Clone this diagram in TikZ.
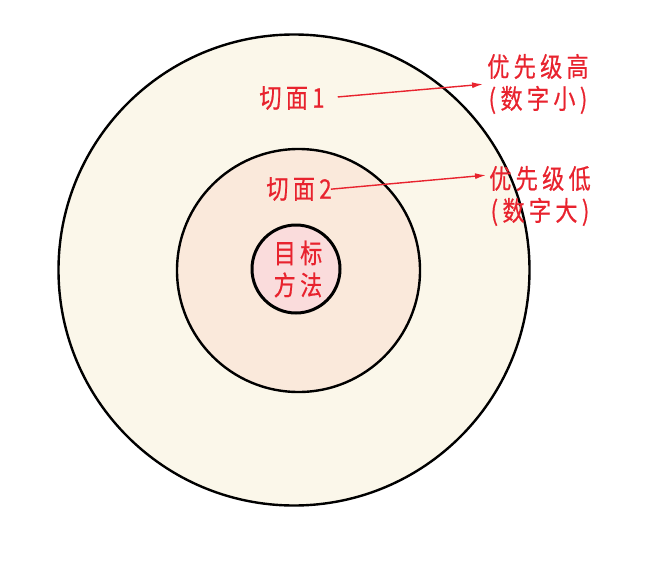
\documentclass[tikz,border=0pt]{standalone}
\usepackage{fontspec}
\newfontfamily\cjk[LetterSpace=16, FakeStretch=0.82, FakeBold=0.5]{Noto Sans CJK SC}
\usetikzlibrary{arrows.meta}
\definecolor{ringout}{HTML}{FBF7EA}
\definecolor{ringmid}{HTML}{FAE9DB}
\definecolor{ringin}{HTML}{FADCDC}
\definecolor{lblred}{HTML}{E8232E}
\tikzset{>={Latex[length=11pt,width=6pt]}}

\begin{document}
\begin{tikzpicture}[x=1pt, y=-1pt,
    ring/.style={circle, draw, line width=2.4pt, inner sep=0pt},
    lbl/.style={text=lblred, font=\cjk\fontsize{27}{32}\selectfont, align=center, inner sep=1pt}]
    \useasboundingbox (0,0) rectangle (648,562);
    % Rings
    \node (outer) [ring, fill=ringout, minimum size=471pt] at (294,270) {};
    \node (middle) [ring, fill=ringmid, minimum size=243pt] at (298.5,270.5) {};
    \node (inner) [ring, fill=ringin, minimum size=88pt, line width=3pt] at (296,269) {};

    % Labels
    \node (core) [lbl] at (298,269) {目标\\方法};
    \node (cut1) [lbl] at (292,98) {切面1};
    \node (cut2) [lbl] at (299,189) {切面2};
    \node (high) [lbl] at (538,84) {优先级高\\(数字小)};
    \node (low) [lbl] at (540,196) {优先级低\\(数字大)};

    % Arrows
    \draw[->, lblred, line width=1.4pt, shorten <=12pt, shorten >=3pt] (cut1.east) -- (high.west);
    \draw[->, lblred, line width=1.4pt, shorten <=-2pt, shorten >=2pt] (cut2.east) -- ([yshift=21pt]low.west);
\end{tikzpicture}
\end{document}
